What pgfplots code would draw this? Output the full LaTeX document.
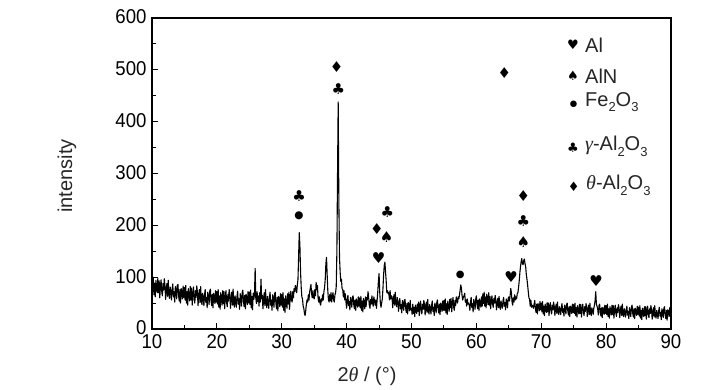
\documentclass[border=0pt]{standalone}
\usepackage{pgfplots}
\pgfplotsset{compat=1.18}
\usepackage{fontspec}
\setmainfont{Liberation Sans}
\newfontfamily\ticks{Liberation Sans}[FakeStretch=0.93]
\newfontfamily\sym{DejaVu Sans}
\newfontfamily\gk{Liberation Serif}
\newcommand\sub[1]{\raisebox{-0.28em}{\fontsize{13}{13}\selectfont #1}}
\newcommand\lab{\fontsize{20}{22}\selectfont\color{black!85}}
\begin{document}
\begin{tikzpicture}
\useasboundingbox (-152pt,-61pt) rectangle (576pt,329pt);
\begin{axis}[
 at={(0,0)}, anchor=south west, scale only axis, width=519pt, height=311pt,
 xmin=10, xmax=90, ymin=0, ymax=600,
 xtick={10,20,...,90}, ytick={0,100,...,600},
 minor x tick num=1, minor y tick num=1,
 tick pos=left, tick align=inside,
 major tick length=6pt, minor tick length=4pt,
 axis line style={line width=1.1pt},
 every tick/.style={line width=1pt, black},
 ticklabel style={font=\ticks\fontsize{20}{20}\selectfont},
 yticklabel style={xshift=-2pt, yshift=1pt},
 xticklabel style={yshift=-2pt},
 /pgf/number format/assume math mode=true,
]
\addplot[black, line width=1.1pt, line join=round] coordinates {
(10.0,96)(10.1,72)(10.2,100)(10.3,66)(10.4,88)(10.5,62)(10.6,94)(10.7,82)(10.8,70)(10.9,98)
(11.0,70)(11.1,93)(11.2,60)(11.3,82)(11.4,95)(11.5,72)(11.6,64)(11.7,88)(11.8,75)(11.9,97)
(12.0,83)(12.1,57)(12.2,77)(12.3,88)(12.4,63)(12.5,94)(12.6,67)(12.7,59)(12.8,81)(12.9,72)
(13.0,56)(13.1,77)(13.2,87)(13.3,62)(13.4,72)(13.5,52)(13.6,82)(13.7,75)(13.8,58)(13.9,84)
(14.0,86)(14.1,64)(14.2,54)(14.3,76)(14.4,50)(14.5,78)(14.6,71)(14.7,58)(14.8,83)(14.9,61)
(15.0,80)(15.1,56)(15.2,84)(15.3,50)(15.4,72)(15.5,46)(15.6,78)(15.7,66)(15.8,54)(15.9,82)
(16.0,56)(16.1,79)(16.2,46)(16.3,68)(16.4,81)(16.5,58)(16.6,50)(16.7,74)(16.8,61)(16.9,83)
(17.0,71)(17.1,45)(17.2,65)(17.3,76)(17.4,51)(17.5,82)(17.6,55)(17.7,47)(17.8,69)(17.9,60)
(18.0,45)(18.1,66)(18.2,76)(18.3,51)(18.4,61)(18.5,41)(18.6,71)(18.7,64)(18.8,47)(18.9,73)
(19.0,77)(19.1,55)(19.2,45)(19.3,67)(19.4,41)(19.5,69)(19.6,62)(19.7,49)(19.8,74)(19.9,52)
(20.0,72)(20.1,48)(20.2,76)(20.3,42)(20.4,64)(20.5,38)(20.6,70)(20.7,58)(20.8,46)(20.9,74)
(21.0,49)(21.1,72)(21.2,39)(21.3,61)(21.4,74)(21.5,51)(21.6,43)(21.7,67)(21.8,54)(21.9,76)
(22.0,66)(22.1,40)(22.2,60)(22.3,71)(22.4,46)(22.5,77)(22.6,50)(22.7,42)(22.8,64)(22.9,55)
(23.0,42)(23.1,63)(23.2,73)(23.3,48)(23.4,58)(23.5,38)(23.6,68)(23.7,61)(23.8,44)(23.9,70)
(24.0,75)(24.1,53)(24.2,43)(24.3,65)(24.4,39)(24.5,67)(24.6,60)(24.7,47)(24.8,72)(24.9,50)
(25.0,71)(25.1,47)(25.2,75)(25.3,41)(25.4,63)(25.5,37)(25.6,69)(25.7,57)(25.8,68)(25.9,117)
(26.0,60)(26.1,49)(26.2,72)(26.3,53)(26.4,64)(26.5,44)(26.6,70)(26.7,52)(26.8,96)(26.9,58)
(27.0,65)(27.1,39)(27.2,59)(27.3,70)(27.4,45)(27.5,76)(27.6,49)(27.7,41)(27.8,63)(27.9,54)
(28.0,40)(28.1,61)(28.2,71)(28.3,46)(28.4,56)(28.5,36)(28.6,66)(28.7,59)(28.8,42)(28.9,68)
(29.0,71)(29.1,49)(29.2,39)(29.3,61)(29.4,35)(29.5,63)(29.6,56)(29.7,43)(29.8,68)(29.9,46)
(30.0,66)(30.1,42)(30.2,70)(30.3,36)(30.4,58)(30.5,32)(30.6,64)(30.7,52)(30.8,40)(30.9,68)
(31.0,48)(31.1,71)(31.2,38)(31.3,60)(31.4,73)(31.5,56)(31.6,52)(31.7,72)(31.8,60)(31.9,78)
(32.0,72)(32.1,84)(32.2,78)(32.3,70)(32.4,85)(32.5,95)(32.6,140)(32.7,186)(32.8,160)(32.9,110)
(33.0,80)(33.1,62)(33.2,58)(33.3,44)(33.4,40)(33.5,30)(33.6,26)(33.7,36)(33.8,48)(33.9,56)
(34.0,52)(34.1,66)(34.2,56)(34.3,72)(34.4,78)(34.5,86)(34.6,68)(34.7,60)(34.8,74)(34.9,62)
(35.0,58)(35.1,76)(35.2,64)(35.3,90)(35.4,76)(35.5,84)(35.6,60)(35.7,52)(35.8,62)(35.9,50)
(36.0,46)(36.1,58)(36.2,54)(36.3,66)(36.4,56)(36.5,72)(36.6,80)(36.7,95)(36.8,125)(36.9,138)
(37.0,105)(37.1,74)(37.2,56)(37.3,52)(37.4,66)(37.5,54)(37.6,70)(37.7,52)(37.8,64)(37.9,70)
(38.0,56)(38.1,52)(38.2,66)(38.3,70)(38.4,82)(38.5,150)(38.6,300)(38.7,438)(38.8,250)(38.9,140)
(39.0,110)(39.1,92)(39.2,96)(39.3,78)(39.4,76)(39.5,62)(39.6,74)(39.7,56)(39.8,68)(39.9,52)
(40.0,40)(40.1,57)(40.2,65)(40.3,45)(40.4,53)(40.5,37)(40.6,61)(40.7,55)(40.8,42)(40.9,62)
(41.0,64)(41.1,47)(41.2,39)(41.3,56)(41.4,36)(41.5,58)(41.6,52)(41.7,42)(41.8,62)(41.9,44)
(42.0,60)(42.1,41)(42.2,63)(42.3,36)(42.4,54)(42.5,33)(42.6,59)(42.7,49)(42.8,39)(42.9,62)
(43.0,43)(43.1,61)(43.2,56)(43.3,72)(43.4,60)(43.5,46)(43.6,40)(43.7,57)(43.8,48)(43.9,64)
(44.0,50)(44.1,44)(44.2,62)(44.3,53)(44.4,46)(44.5,56)(44.6,40)(44.7,55)(44.8,72)(44.9,92)
(45.0,107)(45.1,72)(45.2,50)(45.3,42)(45.4,50)(45.5,58)(45.6,78)(45.7,105)(45.8,122)(45.9,129)
(46.0,110)(46.1,92)(46.2,70)(46.3,74)(46.4,68)(46.5,70)(46.6,56)(46.7,74)(46.8,58)(46.9,64)
(47.0,62)(47.1,41)(47.2,57)(47.3,66)(47.4,46)(47.5,71)(47.6,49)(47.7,43)(47.8,61)(47.9,53)
(48.0,34)(48.1,51)(48.2,59)(48.3,39)(48.4,47)(48.5,31)(48.6,55)(48.7,49)(48.8,36)(48.9,56)
(49.0,57)(49.1,40)(49.2,32)(49.3,49)(49.4,29)(49.5,51)(49.6,45)(49.7,35)(49.8,55)(49.9,37)
(50.0,40)(50.1,28)(50.2,48)(50.3,30)(50.4,42)(50.5,24)(50.6,46)(50.7,38)(50.8,30)(50.9,48)
(51.0,34)(51.1,52)(51.2,26)(51.3,43)(51.4,54)(51.5,35)(51.6,29)(51.7,48)(51.8,38)(51.9,55)
(52.0,48)(52.1,27)(52.2,43)(52.3,52)(52.4,32)(52.5,57)(52.6,35)(52.7,29)(52.8,47)(52.9,39)
(53.0,29)(53.1,46)(53.2,54)(53.3,34)(53.4,42)(53.5,26)(53.6,50)(53.7,44)(53.8,31)(53.9,51)
(54.0,56)(54.1,39)(54.2,31)(54.3,48)(54.4,28)(54.5,50)(54.6,44)(54.7,34)(54.8,54)(54.9,36)
(55.0,55)(55.1,36)(55.2,58)(55.3,31)(55.4,49)(55.5,28)(55.6,54)(55.7,44)(55.8,34)(55.9,57)
(56.0,41)(56.1,59)(56.2,33)(56.3,50)(56.4,61)(56.5,42)(56.6,36)(56.7,55)(56.8,45)(56.9,62)
(57.0,55)(57.1,50)(57.2,62)(57.3,58)(57.4,66)(57.5,75)(57.6,85)(57.7,78)(57.8,64)(57.9,56)
(58.0,62)(58.1,64)(58.2,69)(58.3,52)(58.4,56)(58.5,44)(58.6,58)(58.7,48)(58.8,50)(58.9,46)
(59.0,36)(59.1,53)(59.2,61)(59.3,41)(59.4,49)(59.5,33)(59.6,57)(59.7,51)(59.8,38)(59.9,58)
(60.0,64)(60.1,47)(60.2,39)(60.3,56)(60.4,36)(60.5,58)(60.6,52)(60.7,42)(60.8,62)(60.9,44)
(61.0,68)(61.1,49)(61.2,71)(61.3,44)(61.4,62)(61.5,41)(61.6,67)(61.7,57)(61.8,47)(61.9,70)
(62.0,46)(62.1,63)(62.2,39)(62.3,55)(62.4,64)(62.5,48)(62.6,42)(62.7,59)(62.8,50)(62.9,65)
(63.0,55)(63.1,37)(63.2,51)(63.3,59)(63.4,41)(63.5,63)(63.6,44)(63.7,38)(63.8,54)(63.9,48)
(64.0,40)(64.1,54)(64.2,61)(64.3,44)(64.4,51)(64.5,37)(64.6,58)(64.7,53)(64.8,41)(64.9,59)
(65.0,62)(65.1,54)(65.2,64)(65.3,78)(65.4,70)(65.5,52)(65.6,46)(65.7,60)(65.8,52)(65.9,66)
(66.0,56)(66.1,62)(66.2,58)(66.3,68)(66.4,70)(66.5,80)(66.6,92)(66.7,108)(66.8,120)(66.9,130)
(67.0,136)(67.1,126)(67.2,124)(67.3,132)(67.4,135)(67.5,126)(67.6,120)(67.7,105)(67.8,96)(67.9,85)
(68.0,72)(68.1,60)(68.2,58)(68.3,44)(68.4,56)(68.5,42)(68.6,46)(68.7,44)(68.8,40)(68.9,48)
(69.0,55)(69.1,39)(69.2,32)(69.3,48)(69.4,29)(69.5,49)(69.6,44)(69.7,35)(69.8,53)(69.9,37)
(70.0,50)(70.1,33)(70.2,53)(70.3,29)(70.4,44)(70.5,26)(70.6,48)(70.7,40)(70.8,32)(70.9,51)
(71.0,33)(71.1,50)(71.2,26)(71.3,42)(71.4,51)(71.5,35)(71.6,29)(71.7,46)(71.8,37)(71.9,52)
(72.0,44)(72.1,26)(72.2,40)(72.3,48)(72.4,30)(72.5,52)(72.6,33)(72.7,28)(72.8,43)(72.9,37)
(73.0,28)(73.1,42)(73.2,49)(73.3,32)(73.4,39)(73.5,25)(73.6,46)(73.7,41)(73.8,29)(73.9,47)
(74.0,50)(74.1,34)(74.2,27)(74.3,43)(74.4,24)(74.5,44)(74.6,39)(74.7,30)(74.8,48)(74.9,32)
(75.0,47)(75.1,30)(75.2,50)(75.3,26)(75.4,41)(75.5,23)(75.6,45)(75.7,37)(75.8,29)(75.9,48)
(76.0,30)(76.1,47)(76.2,23)(76.3,39)(76.4,48)(76.5,32)(76.6,26)(76.7,43)(76.8,34)(76.9,49)
(77.0,42)(77.1,24)(77.2,38)(77.3,46)(77.4,28)(77.5,50)(77.6,31)(77.7,26)(77.8,41)(77.9,35)
(78.0,28)(78.1,40)(78.2,46)(78.3,55)(78.4,72)(78.5,48)(78.6,44)(78.7,39)(78.8,27)(78.9,45)
(79.0,48)(79.1,32)(79.2,25)(79.3,41)(79.4,22)(79.5,42)(79.6,37)(79.7,28)(79.8,46)(79.9,30)
(80.0,45)(80.1,28)(80.2,48)(80.3,24)(80.4,39)(80.5,21)(80.6,43)(80.7,35)(80.8,27)(80.9,46)
(81.0,28)(81.1,45)(81.2,21)(81.3,37)(81.4,46)(81.5,30)(81.6,24)(81.7,41)(81.8,32)(81.9,47)
(82.0,40)(82.1,22)(82.2,36)(82.3,44)(82.4,26)(82.5,48)(82.6,29)(82.7,24)(82.8,39)(82.9,33)
(83.0,23)(83.1,37)(83.2,44)(83.3,27)(83.4,34)(83.5,20)(83.6,41)(83.7,36)(83.8,24)(83.9,42)
(84.0,46)(84.1,30)(84.2,23)(84.3,39)(84.4,20)(84.5,40)(84.6,35)(84.7,26)(84.8,44)(84.9,28)
(85.0,42)(85.1,25)(85.2,45)(85.3,21)(85.4,36)(85.5,18)(85.6,40)(85.7,32)(85.8,24)(85.9,43)
(86.0,26)(86.1,43)(86.2,19)(86.3,35)(86.4,44)(86.5,28)(86.6,22)(86.7,39)(86.8,30)(86.9,45)
(87.0,37)(87.1,19)(87.2,33)(87.3,41)(87.4,23)(87.5,45)(87.6,26)(87.7,21)(87.8,36)(87.9,30)
(88.0,20)(88.1,35)(88.2,42)(88.3,25)(88.4,32)(88.5,18)(88.6,39)(88.7,34)(88.8,22)(88.9,40)
(89.0,43)(89.1,27)(89.2,20)(89.3,36)(89.4,17)(89.5,37)(89.6,33)(89.7,24)(89.8,41)(89.9,25)
(90.0,29)
};
% peak annotations
\begin{scope}[every node/.style={inner sep=0pt, font=\sym\fontsize{15}{15}\selectfont}]
\node at (axis cs:32.66,256.6) {♣};
\node[font=\sym\fontsize{10.5}{10.5}\selectfont] at (axis cs:32.66,218) {●};
\node at (axis cs:38.47,506) {♦};
\node at (axis cs:38.72,463) {♣};
\node at (axis cs:44.64,193) {♦};
\node at (axis cs:44.94,137) {♥};
\node at (axis cs:46.27,226) {♣};
\node at (axis cs:46.18,177) {♠};
\node at (axis cs:64.31,494.5) {♦};
\node at (axis cs:67.23,256.6) {♦};
\node at (axis cs:67.23,208.4) {♣};
\node at (axis cs:67.23,168.4) {♠};
\node[font=\sym\fontsize{10}{10}\selectfont] at (axis cs:57.52,103.6) {●};
\node at (axis cs:65.34,100.9) {♥};
\node at (axis cs:78.44,92.6) {♥};
\end{scope}
% legend
\begin{scope}[every node/.style={inner sep=0pt}]
\node[font=\sym\fontsize{13}{13}\selectfont] at (axis cs:74.9,548) {♥};
\node[font=\sym\fontsize{13}{13}\selectfont] at (axis cs:74.9,488) {♠};
\node[font=\sym\fontsize{8.5}{8.5}\selectfont] at (axis cs:75.0,434) {●};
\node[font=\sym\fontsize{13}{13}\selectfont] at (axis cs:74.9,349) {♣};
\node[font=\sym\fontsize{13}{13}\selectfont] at (axis cs:75.0,274) {♦};
\node[anchor=west] at (axis cs:76.74,548) {\lab Al};
\node[anchor=west] at (axis cs:76.74,488) {\lab AlN};
\node[anchor=west] at (axis cs:76.74,438) {\lab Fe\sub{2}O\sub{3}};
\node[anchor=west] at (axis cs:76.74,352) {\lab{\gk\itshape γ}-Al\sub{2}O\sub{3}};
\node[anchor=west] at (axis cs:76.9,277) {\lab{\gk\itshape θ}-Al\sub{2}O\sub{3}};
\end{scope}
\end{axis}
\node[rotate=90, inner sep=0pt] at (-85pt,153pt) {\lab intensity};
\node[inner sep=0pt] at (215pt,-47pt) {\lab 2{\gk\itshape θ} / (°)};
\end{tikzpicture}
\end{document}
